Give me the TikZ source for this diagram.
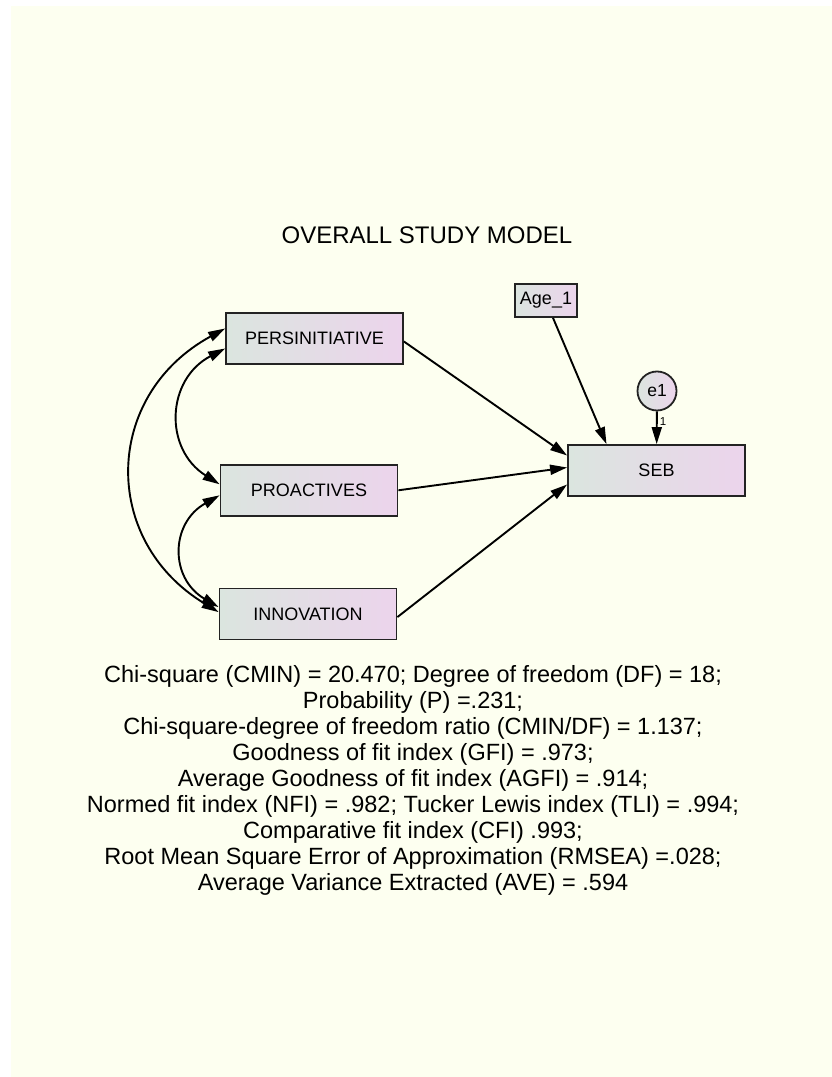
\documentclass[tikz,border=0pt]{standalone}
\usepackage{fontspec}
\setmainfont{Liberation Sans}
\usetikzlibrary{shapes,arrows.meta,positioning,calc}
\definecolor{paper}{RGB}{253,255,240}
\definecolor{boxleft}{RGB}{219,229,223}
\definecolor{boxright}{RGB}{236,212,236}
\definecolor{edge}{RGB}{35,35,35}

\begin{document}
\begin{tikzpicture}[x=1pt, y=1pt, >={Triangle[length=17pt,width=10pt]}]
        % Styles
        \tikzstyle{observed} = [rectangle, draw=edge, line width=1.8pt, left color=boxleft, right color=boxright, minimum width=177pt, minimum height=51pt, inner sep=0pt, font=\fontsize{18}{20}\selectfont]
        \tikzstyle{covariate} = [observed, minimum width=62pt, minimum height=33pt]
        \tikzstyle{residual} = [circle, draw=edge, line width=1.8pt, left color=boxleft, right color=boxright, minimum size=39pt, inner sep=0pt, font=\fontsize{17.5}{19}\selectfont]
        \tikzstyle{line} = [draw, ->, line width=1.9pt]
        \tikzstyle{cov} = [draw, <->, line width=1.9pt]

        % Page
        \fill[white] (0,0) rectangle (832,1077);
        \fill[paper] (11,0) rectangle (832,1071);
        \useasboundingbox (0,0) rectangle (832,1077);

        \node [font=\fontsize{24}{28}\selectfont] (title) at (427,842) {OVERALL STUDY MODEL};

        % Nodes
        \node [observed] (pers) at (314.5,738.5) {PERSINITIATIVE};
        \node [observed, below=99pt of pers, xshift=-5.5pt] (proa) {PROACTIVES};
        \node [observed, below=71pt of proa, xshift=-1pt] (inno) {INNOVATION};
        \node [observed] (seb) at (656.5,606.5) {SEB};
        \node [covariate] (age) at (546,776.5) {Age\_1};
        \node [residual] (e1) at (657,686) {e1};

        % Edges
        \path [line] ([yshift=-3pt]pers.east) -- ([yshift=15pt]seb.west);
        \path [line] (proa.east) -- ([yshift=3pt]seb.west);
        \path [line] ([yshift=-3pt]inno.east) -- ([yshift=-14pt]seb.west);
        \path [line] ([xshift=7pt]age.south) -- ([xshift=-50pt]seb.north);
        \path [line] (e1) -- node [right, pos=0.3, inner sep=2pt, font=\fontsize{11.5}{12}\selectfont] {1} (seb);

        % Covariances
        \path [cov] ([yshift=10pt]pers.west) to [bend right=60, looseness=1.25] ([yshift=2pt]inno.west);
        \path [cov] ([yshift=-10pt]pers.west) to [bend right=60, looseness=1.25] ([yshift=6pt]proa.west);
        \path [cov] ([yshift=-5pt]proa.west) to [bend right=60, looseness=1.3] ([yshift=7pt]inno.west);

        \node [align=center, font=\fontsize{23.5}{26}\selectfont] (fit) at (413,297) {Chi-square (CMIN) = 20.470; Degree of freedom (DF) = 18;\\
        Probability (P) =.231;\\
        Chi-square-degree of freedom ratio (CMIN/DF) = 1.137;\\
        Goodness of fit index (GFI) = .973;\\
        Average Goodness of fit index (AGFI) = .914;\\
        Normed fit index (NFI) = .982; Tucker Lewis index (TLI) = .994;\\
        Comparative fit index (CFI) .993;\\
        Root Mean Square Error of Approximation (RMSEA) =.028;\\
        Average Variance Extracted (AVE) = .594};
    \end{tikzpicture}
\end{document}
